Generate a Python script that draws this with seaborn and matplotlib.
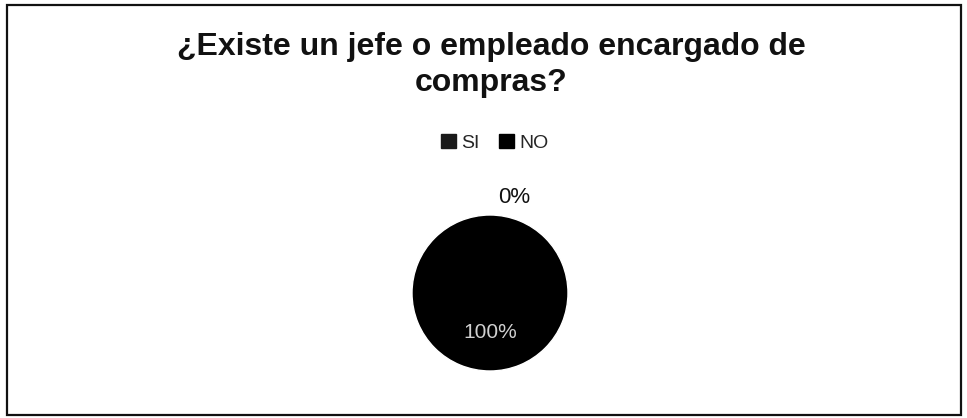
import matplotlib
matplotlib.use("Agg")
import matplotlib.pyplot as plt
import seaborn as sns
from matplotlib.patches import Rectangle, Patch

categories = ["SI", "NO"]
values = [0, 100]
title = "¿Existe un jefe o empleado encargado de\ncompras?"

sns.set_theme(style="white")
plt.rcParams["font.family"] = ["Liberation Sans", "DejaVu Sans"]
colors = ["#1a1a1a", "#000000"]

W, H = 967, 418
fig = plt.figure(figsize=(W / 100, H / 100), dpi=100)
fig.patch.set_facecolor("white")

# chart frame
fig.add_artist(Rectangle((7 / W, 1 - 415 / H), 954 / W, 410 / H, transform=fig.transFigure,
                         fill=False, edgecolor="#111111", linewidth=1.6))

fig.text(491 / W, 1 - 65 / H, title, ha="center", va="center", fontsize=23,
         fontweight="bold", color="#111111", linespacing=1.22)

cx, cy, r = 490, 293, 78
ax = fig.add_axes([(cx - r) / W, (H - cy - r) / H, 2 * r / W, 2 * r / H])
wedges, texts, autotexts = ax.pie(values, colors=colors, startangle=90, counterclock=False,
                                  autopct="%1.0f%%", pctdistance=0.51,
                                  textprops={"fontsize": 15})
for v, t in zip(values, autotexts):
    if v == 0:
        t.set_position((0.31, 1.22))
        t.set_color("#111111")
        t.set_fontsize(16)
    else:
        t.set_color("#d0d0d0")
ax.set_xlim(-1, 1)
ax.set_ylim(-1, 1)
ax.set_aspect("equal")
ax.axis("off")

handles = [Patch(facecolor=c, edgecolor=c) for c in colors]
fig.legend(handles, categories, loc="center", bbox_to_anchor=(495 / W, 1 - 143 / H),
           ncol=2, frameon=False, fontsize=14, handlelength=0.75, handleheight=0.75,
           handletextpad=0.3, columnspacing=1.0)

fig.savefig("out.png", dpi=100)
